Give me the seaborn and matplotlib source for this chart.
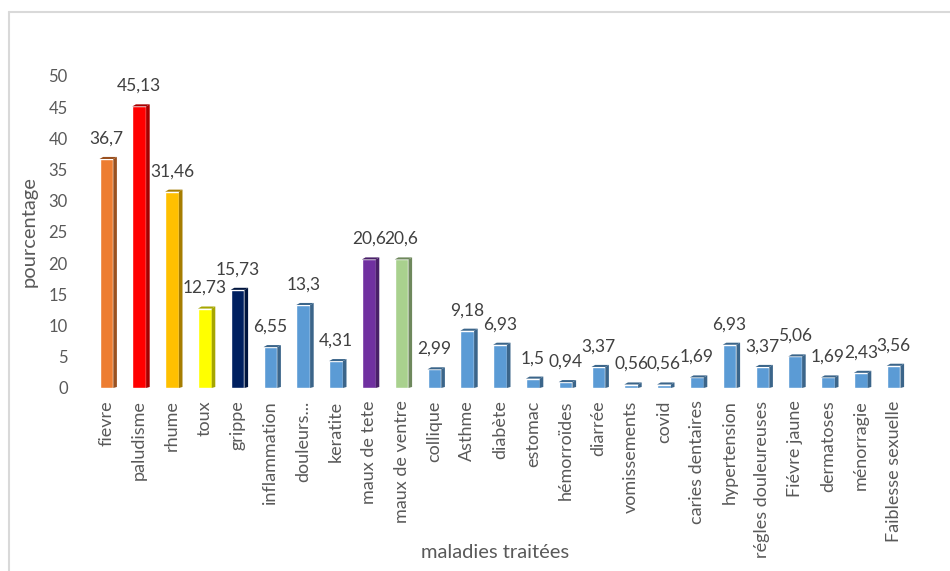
import matplotlib
matplotlib.use("Agg")
import matplotlib.pyplot as plt
import seaborn as sns
import pandas as pd
from matplotlib.patches import Polygon
from matplotlib.lines import Line2D
from matplotlib.colors import to_rgb

maladies = ["fievre", "paludisme", "rhume", "toux", "grippe", "inflammation",
            "douleurs...", "keratite", "maux de tete", "maux de ventre", "collique",
            "Asthme", "diabète", "estomac", "hémorroïdes", "diarrée", "vomissements",
            "covid", "caries dentaires", "hypertension", "régles douleureuses",
            "Fiévre jaune", "dermatoses", "ménorragie", "Faiblesse sexuelle"]
pourcentage = [36.7, 45.13, 31.46, 12.73, 15.73, 6.55, 13.3, 4.31, 20.6, 20.6,
               2.99, 9.18, 6.93, 1.5, 0.94, 3.37, 0.56, 0.56, 1.69, 6.93, 3.37,
               5.06, 1.69, 2.43, 3.56]
couleurs = ["#ED7D31", "#FF0000", "#FFC000", "#FFFF00", "#002060", "#5B9BD5",
            "#5B9BD5", "#5B9BD5", "#7030A0", "#A9D18E"] + ["#5B9BD5"] * 15

df = pd.DataFrame({"maladie": maladies, "pct": pourcentage})

sns.set_style("white")
plt.rcParams["font.family"] = ["Lato", "DejaVu Sans"]
txt = "#595959"

fig = plt.figure(figsize=(9.5, 5.71), dpi=100)
ax = fig.add_axes([90 / 950, 1 - 388 / 571, (910 - 90) / 950, (388 - 76) / 571])

sns.barplot(data=df, x="maladie", y="pct", hue="maladie", palette=couleurs,
            legend=False, width=0.42, saturation=1, ax=ax)

# fake 3D side / top like the Excel chart
dx, dy = 0.11, 0.55
for bar, c in zip(ax.patches, couleurs):
    x0, w, h = bar.get_x(), bar.get_width(), bar.get_height()
    r, g, b = to_rgb(c)
    dark = (r * 0.65, g * 0.65, b * 0.65)
    side = Polygon([(x0 + w, 0), (x0 + w + dx, dy * 0.3), (x0 + w + dx, h + dy * 0.6),
                    (x0 + w, h)], closed=True, color=dark, lw=0, clip_on=False)
    top = Polygon([(x0, h), (x0 + w, h), (x0 + w + dx, h + dy * 0.6),
                   (x0 + dx, h + dy * 0.6)], closed=True, color=dark, lw=0, clip_on=False)
    ax.add_patch(side)
    ax.add_patch(top)
    lab = f"{h:g}".replace(".", ",")
    ax.text(x0 + w / 2, h + 2.0, lab, ha="center", va="bottom", fontsize=12.5,
            color="#404040")

ax.set_xlim(-0.5, len(maladies) - 0.5)
ax.set_ylim(0, 50)
ax.set_yticks(range(0, 51, 5))
ax.tick_params(axis="y", labelsize=12, labelcolor=txt, length=0, pad=16)
ax.set_xticks(range(len(maladies)))
ax.set_xticklabels(maladies, rotation=90, fontsize=13, color=txt)
ax.tick_params(axis="x", length=0, pad=9)
for s in ax.spines.values():
    s.set_visible(False)

ax.set_ylabel("pourcentage", fontsize=14.5, color=txt, labelpad=8)
ax.set_xlabel("")
fig.text(495 / 950, 1 - 552 / 571, "maladies traitées", ha="center", va="center",
         fontsize=14.5, color=txt)

# chart area border (light gray), cut at the right and bottom edges
fig.add_artist(Line2D([9 / 950, 1], [1 - 12 / 571, 1 - 12 / 571], color="#D9D9D9",
                      lw=1.5, transform=fig.transFigure))
fig.add_artist(Line2D([9 / 950, 9 / 950], [0, 1 - 12 / 571], color="#D9D9D9",
                      lw=1.5, transform=fig.transFigure))

fig.savefig("out.png", dpi=100)
